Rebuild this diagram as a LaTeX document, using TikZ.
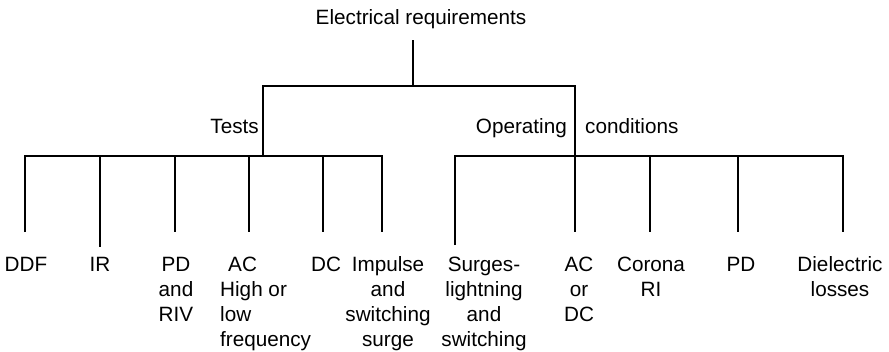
\documentclass[tikz,border=0pt]{standalone}
\usepackage{fontspec}
\setmainfont{Liberation Sans}
\newcommand\lblstrut{\rule{0pt}{16pt}}
\begin{document}
\begin{tikzpicture}[x=1pt,y=-1pt,
  lbl/.style={inner sep=0pt, align=center, anchor=north, font=\fontsize{20.7pt}{25pt}\selectfont},
  wire/.style={draw, line width=1.8pt, line join=miter}]
\useasboundingbox (0,0) rectangle (889,351);
% labels
\node[lbl, anchor=base] (root) at (421,24) {Electrical requirements};
\node[lbl, anchor=base east] (tests) at (259,133) {Tests};
\node[lbl, anchor=base east] (oper) at (567,133) {Operating};
\node[lbl, anchor=base west] (cond) at (585,133) {conditions};
\node[lbl] (ddf) at (26,255) {\lblstrut DDF};
\node[lbl] (ir) at (100,255) {\lblstrut IR};
\node[lbl] (pd) at (176,255) {\lblstrut PD\\and\\RIV};
\node[lbl, anchor=north west, align=left] (ac) at (220,255) {\lblstrut\hspace*{8pt}AC\\High or\\low\\frequency};
\node[lbl] (dc) at (326,255) {\lblstrut DC};
\node[lbl] (imp) at (388,255) {\lblstrut Impulse\\and\\switching\\surge};
\node[lbl] (surg) at (484,255) {\lblstrut Surges-\\lightning\\and\\switching};
\node[lbl] (acdc) at (579,255) {\lblstrut AC\\or\\DC};
\node[lbl] (cor) at (651,255) {\lblstrut Corona\\RI};
\node[lbl] (pdo) at (741,255) {\lblstrut PD};
\node[lbl] (diel) at (840,255) {\lblstrut Dielectric\\losses};
% junctions
\coordinate (rb) at (413,40);
\coordinate (rt) at (413,86);
\coordinate (tl) at (263,86);
\coordinate (tr) at (575,86);
\coordinate (jt) at (263,156);
\coordinate (jo) at (575,156);
\coordinate (j1) at (25,156);  \coordinate (e1) at (25,232);
\coordinate (j2) at (100,156); \coordinate (e2) at (100,247);
\coordinate (j3) at (175,156); \coordinate (e3) at (175,232);
\coordinate (j4) at (249,156); \coordinate (e4) at (249,232);
\coordinate (j5) at (323,156); \coordinate (e5) at (323,232);
\coordinate (j6) at (382,156); \coordinate (e6) at (382,232);
\coordinate (k1) at (455,156); \coordinate (f1) at (455,245);
\coordinate (f2) at (575,232);
\coordinate (k3) at (650,156); \coordinate (f3) at (650,232);
\coordinate (k4) at (738,156); \coordinate (f4) at (738,232);
\coordinate (k5) at (843,156); \coordinate (f5) at (843,232);
% connectors
\path[wire] (rb) -- (rt);
\path[wire] (jt) -- (tl) -- (tr) -- (f2);
\path[wire] (e1) -- (j1) -- (j6) -- (e6);
\path[wire] (j2) -- (e2);
\path[wire] (j3) -- (e3);
\path[wire] (j4) -- (e4);
\path[wire] (j5) -- (e5);
\path[wire] (f1) -- (k1) -- (k5) -- (f5);
\path[wire] (k3) -- (f3);
\path[wire] (k4) -- (f4);
\end{tikzpicture}
\end{document}
